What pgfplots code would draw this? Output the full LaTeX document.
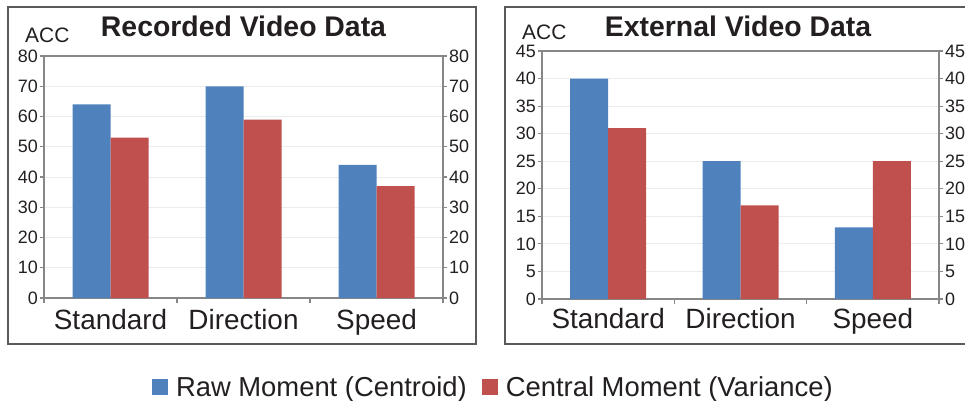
\documentclass[border=0pt]{standalone}
\usepackage{fontspec}
\setmainfont{Liberation Sans}
\usepackage{pgfplots}
\pgfplotsset{compat=1.18}

\definecolor{rawblue}{HTML}{4F81BD}
\definecolor{cenred}{HTML}{C0504D}
\definecolor{axgray}{HTML}{878787}
\definecolor{gridgray}{HTML}{ECECEC}
\definecolor{txt}{HTML}{231F20}
\definecolor{framegray}{HTML}{5A5A5A}

\pgfplotsset{
  panel/.style={
    scale only axis,
    xmin=-0.5, xmax=2.5, ymin=0,
    /pgf/number format/assume math mode=true,
    axis line style={axgray, line width=1.5bp},
    tick style={axgray, line width=1.2bp},
    tick align=outside,
    major tick length=4bp, minor tick length=5bp,
    xtick={0,1,2}, xticklabels={Standard,Direction,Speed},
    minor xtick={-0.5,0.5,1.5,2.5},
    every major x tick/.append style={draw=none},
    xtick pos=left,
    ytick pos=both,
    yticklabel pos=left,
    ymajorgrids,
    major grid style={gridgray, line width=0.9bp},
    yticklabel style={font=\fontsize{18}{18}\selectfont, text=txt, inner sep=2bp},
    xticklabel style={font=\fontsize{28}{28}\selectfont, text=txt, anchor=base},
    ybar=0pt, bar width=38bp,
  },
  rightlabels/.style={
    scale only axis,
    xmin=-0.5, xmax=2.5, ymin=0,
    /pgf/number format/assume math mode=true,
    hide x axis,
    axis y line*=right,
    y axis line style={draw=none},
    tick align=outside,
    major tick length=4bp,
    ytick style={draw=none},
    yticklabel style={font=\fontsize{18}{18}\selectfont, text=txt, inner sep=2bp},
  },
}

\begin{document}
\begin{tikzpicture}[x=1bp, y=1bp]
\useasboundingbox (0,0) rectangle (965,400);

% panel frames
\draw[framegray, line width=1.2bp] (8,393) rectangle (476,56);
\draw[framegray, line width=1.2bp] (505,393) rectangle (985,56);

% ---- Recorded video data ----
\begin{axis}[panel, at={(44bp,102bp)}, anchor=south west,
  width=399bp, height=242bp, ymax=80, ytick={0,10,...,80},
  xticklabel style={yshift=-27bp},
  legend columns=2,
  legend style={draw=none, fill=none, inner sep=0pt, outer sep=0pt,
    at={(0.2707,-0.3678)}, anchor=west,
    font=\fontsize{27.5}{27.5}\selectfont, text=txt,
    nodes={inner sep=0pt},
    /tikz/every odd column/.append style={column sep=8bp},
    /tikz/every even column/.append style={column sep=15bp}},
  legend image code/.code={\fill[#1] (0bp,-8bp) rectangle (16bp,8bp);},
]
\addplot[fill=rawblue, draw=none] coordinates {(0,64) (1,70) (2,44)};
\addplot[fill=cenred, draw=none] coordinates {(0,53) (1,59) (2,37)};
\legend{Raw Moment (Centroid), Central Moment (Variance)}
\end{axis}
\begin{axis}[rightlabels, at={(44bp,102bp)}, anchor=south west,
  width=399bp, height=242bp, ymax=80, ytick={0,10,...,80}]
\end{axis}

% ---- External video data ----
\begin{axis}[panel, at={(542bp,101bp)}, anchor=south west,
  width=397bp, height=248bp, ymax=45, ytick={0,5,...,45},
  xticklabel style={yshift=-25bp}]
\addplot[fill=rawblue, draw=none] coordinates {(0,40) (1,25) (2,13)};
\addplot[fill=cenred, draw=none] coordinates {(0,31) (1,17) (2,25)};
\end{axis}
\begin{axis}[rightlabels, at={(542bp,101bp)}, anchor=south west,
  width=397bp, height=248bp, ymax=45, ytick={0,5,...,45}]
\end{axis}

% titles and axis captions
\node[anchor=base, font=\bfseries\fontsize{28.5}{28.5}\selectfont, text=txt]
  at (243.5,364) {Recorded Video Data};
\node[anchor=base, font=\bfseries\fontsize{28.5}{28.5}\selectfont, text=txt]
  at (738,364) {External Video Data};
\node[anchor=base west, inner sep=0pt, font=\fontsize{21}{21}\selectfont, text=txt]
  at (25,358) {ACC};
\node[anchor=base west, inner sep=0pt, font=\fontsize{21}{21}\selectfont, text=txt]
  at (522,361) {ACC};
\end{tikzpicture}
\end{document}
